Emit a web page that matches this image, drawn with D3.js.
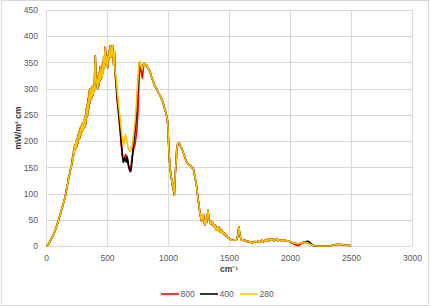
<!DOCTYPE html>
<html>
<head>
<meta charset="utf-8">
<script src="https://cdn.jsdelivr.net/npm/d3@7"></script>
<style>
    html, body { margin: 0; padding: 0; background: #ffffff; }
    #chart { width: 431px; height: 307px; }
</style>
</head>
<body>
<div id="chart"></div>
<script>
// spectrum pieces, [wavenumber cm-1, mW/m2 cm]
const lowPart = [
    [0,0],[11,1],[25,5],[38,11],[52,17],[66,24],[80,33],[93,42],[107,52],[120,63],[134,74],[148,86],
    [158,94],[165,104],[172,113],[179,120],[186,132],[193,136],[200,145],[206,150],[213,157],[218,168],
    [222,163],[227,183],[231,176],[235,192],[240,185],[245,200],[250,188],[255,205],[260,195],[264,212],
    [268,203],[272,218],[277,206],[282,225],[286,212],[290,228],[295,218],[300,235],[305,222],[310,240],
    [315,225],[320,248],[325,232],[330,262],[334,245],[338,270],[342,250],[346,282],[350,262],[354,295],
    [358,272],[363,300],[367,280],[372,298],[377,283],[382,305],[386,288],[391,304],[396,295],[400,335],
    [404,362],[408,330],[412,310],[418,317],[423,300],[428,325],[433,305],[438,332],[442,315],[446,342],
    [450,318],[455,335],[460,322],[464,348],[469,330],[473,361],[478,340],[482,368],[486,380],[490,355],
    [495,345],[500,362],[505,340],[510,358],[514,355],[518,372],[522,360],[527,382],[531,372],[535,360],
    [540,378],[545,382],[550,360],[555,345],[560,372],[564,345]
];

const dip280 = [
    [567,330],[575,320],[582,300],[590,280],[597,265],[604,250],[610,238],[616,224],[622,212],[628,200],
    [634,192],[640,200],[646,208],[652,212],[658,205],[664,198],[670,190],[676,185],[682,182],[688,180],
    [694,182],[700,188],[706,192],[712,200],[718,212],[724,225],[730,238],[736,255],[742,275],[748,298],
    [754,318],[759,335],[764,350],[770,352],[776,345],[782,340],[788,336],[794,342],[800,348]
];
const dip400 = [
    [567,330],[575,310],[582,288],[590,270],[597,252],[604,235],[610,220],[616,200],[622,185],[628,170],
    [634,160],[640,162],[646,168],[652,165],[658,160],[664,170],[670,165],[676,155],[682,148],[688,143],
    [694,142],[700,150],[706,165],[712,180],[718,195],[724,210],[730,218],[736,235],[742,255],[748,282],
    [754,305],[760,330],[765,348],[770,350],[776,342],[782,338],[788,336],[794,342],[800,348]
];
const dip800 = [
    [567,328],[575,305],[582,280],[590,262],[597,245],[604,228],[610,212],[616,195],[622,180],[628,168],
    [634,162],[640,165],[646,170],[652,175],[658,172],[664,168],[670,160],[676,152],[682,147],[688,145],
    [694,148],[700,158],[706,170],[712,178],[718,185],[724,190],[730,193],[736,205],[742,215],[748,230],
    [754,260],[760,300],[766,330],[772,342],[778,338],[784,328],[790,320],[796,335],[802,348]
];

const midPart = [
    [806,344],[812,348],[818,345],[825,345],[832,340],[838,338],[845,335],[852,333],[858,328],[865,322],
    [872,318],[880,313],[886,308],[893,305],[900,302],[907,300],[914,296],[921,292],[928,290],[934,287],
    [941,284],[948,280],[955,276],[962,272],[968,265],[975,260],[982,255],[989,248],[995,240],[1000,225],
    [1003,205],[1008,180],[1013,160],[1018,148],[1024,135],[1030,126],[1036,115],[1040,120],[1044,106],
    [1048,112],[1052,97],[1056,120],[1060,140],[1064,152],[1068,165],[1071,183],[1076,190],[1080,195],
    [1085,196],[1090,197],[1095,195],[1100,192],[1108,188],[1115,184],[1122,180],[1128,176],[1135,172],
    [1142,167],[1150,162],[1158,158],[1165,157],[1172,155],[1180,154],[1188,152],[1195,150],[1202,148],
    [1207,148],[1214,140],[1221,132],[1228,122],[1235,113],[1241,100],[1248,87],[1255,75],[1262,62],
    [1268,55],[1274,48],[1280,58],[1286,52],[1290,60],[1296,48],[1303,40],[1310,52],[1316,45],[1322,56],
    [1328,68],[1333,55],[1338,50],[1344,49],[1350,42],[1356,48],[1362,40],[1368,44],[1374,38],[1380,36],
    [1388,40],[1394,32],[1400,30],[1408,35],[1415,28],[1420,36],[1426,30],[1432,26],[1440,30],[1446,25],
    [1453,27],[1460,22],[1467,24],[1474,19],[1481,20],[1490,16],[1500,15],[1508,14],[1516,12],[1525,11],
    [1535,11],[1545,12],[1555,11],[1565,13],[1572,20],[1578,32],[1582,36],[1586,26],[1592,18],[1598,14],
    [1604,11],[1612,12],[1620,10],[1630,11],[1640,9],[1650,8],[1660,9],[1670,7],[1680,8],[1690,6],
    [1700,7],[1710,9],[1720,7],[1730,8],[1740,10],[1750,7],[1760,9],[1770,11],[1780,8],[1790,10],
    [1800,12],[1810,9],[1820,13],[1830,10],[1840,14],[1850,11],[1860,13],[1870,10],[1880,12],[1890,14],
    [1900,10],[1910,12],[1920,11],[1930,10],[1940,12],[1950,10],[1960,11],[1970,9],[1980,10],[1990,9],
    [2000,8]
];

const tail280 = [
    [2010,7],[2020,6],[2030,6],[2040,5],[2050,5],[2060,4],[2070,4],[2080,5],[2090,6],[2100,6],[2110,6],
    [2120,6],[2130,7],[2140,6],[2150,5],[2160,4],[2170,3],[2180,2],[2190,1],[2200,1],[2220,0],[2240,0],
    [2260,0],[2280,0],[2300,0],[2320,0],[2340,1],[2360,2],[2380,3],[2400,3],[2420,3],[2440,2],[2460,2],
    [2480,1],[2500,1]
];
const tail400 = [
    [2010,7],[2020,6],[2030,6],[2040,5],[2050,5],[2060,4],[2070,4],[2080,5],[2090,6],[2100,6],[2110,7],
    [2120,7],[2130,8],[2140,9],[2150,9],[2160,7],[2170,5],[2180,3],[2190,1],[2200,0],[2220,0],[2240,0],
    [2260,0],[2280,0],[2300,0],[2320,0],[2340,1],[2360,2],[2380,3],[2400,3],[2420,3],[2440,2],[2460,2],
    [2480,1],[2500,1]
];
const tail800 = [
    [2010,6],[2020,5],[2030,4],[2040,3],[2050,2],[2060,1],[2070,1],[2080,2],[2090,4],[2100,5],[2110,6],
    [2120,6],[2130,7],[2140,6],[2150,5],[2160,4],[2170,3],[2180,2],[2190,1],[2200,1],[2220,0],[2240,0],
    [2260,0],[2280,0],[2300,0],[2320,0],[2340,1],[2360,2],[2380,3],[2400,3],[2420,3],[2440,2],[2460,2],
    [2480,1],[2500,1]
];

const seriesNames = ["800", "400", "280"];
const seriesColors = ["#ff0000", "#000000", "#ffc000"];
const xTicks = [0, 500, 1000, 1500, 2000, 2500, 3000];
const yTicks = [0, 50, 100, 150, 200, 250, 300, 350, 400, 450];

(function () {
    'use strict';

    const width = 431;
    const height = 307;
    const margin = { left: 46, right: 19, top: 10, bottom: 61 };
    const fontFam = "'Liberation Sans', Arial, sans-serif";

    const seriesData = [
        lowPart.concat(dip800, midPart, tail800),
        lowPart.concat(dip400, midPart, tail400),
        lowPart.concat(dip280, midPart, tail280)
    ];

    const svg = d3.select("#chart").append("svg")
        .attr("width", width)
        .attr("height", height)
        .style("display", "block")
        .style("font-family", fontFam);

    svg.append("rect")
        .attr("x", 1.5).attr("y", 0.5)
        .attr("width", 427).attr("height", 305)
        .attr("fill", "#ffffff")
        .attr("stroke", "#d9d9d9");

    const x = d3.scaleLinear().domain([0, 3000]).range([margin.left, width - margin.right]);
    const y = d3.scaleLinear().domain([0, 450]).range([height - margin.bottom, margin.top]);

    // grid
    svg.append("g")
        .selectAll("line")
        .data(xTicks)
        .enter().append("line")
        .attr("x1", d => Math.round(x(d)) + 0.5).attr("x2", d => Math.round(x(d)) + 0.5)
        .attr("y1", y(450)).attr("y2", y(0))
        .attr("stroke", "#d9d9d9").attr("stroke-width", 1);

    svg.append("g")
        .selectAll("line")
        .data(yTicks)
        .enter().append("line")
        .attr("x1", x(0)).attr("x2", x(3000))
        .attr("y1", d => Math.round(y(d)) + 0.5).attr("y2", d => Math.round(y(d)) + 0.5)
        .attr("stroke", "#d9d9d9").attr("stroke-width", 1);

    // tick labels
    const xAxis = svg.append("g")
        .attr("transform", `translate(0,${y(0)})`)
        .call(d3.axisBottom(x).tickValues(xTicks).tickFormat(d3.format("d")).tickSize(0).tickPadding(9));
    xAxis.select(".domain").remove();
    xAxis.selectAll("text")
        .attr("fill", "#595959")
        .style("font-size", "8.5px")
        .style("font-family", fontFam);

    const yAxis = svg.append("g")
        .attr("transform", `translate(${x(0)},0)`)
        .call(d3.axisLeft(y).tickValues(yTicks).tickFormat(d3.format("d")).tickSize(0).tickPadding(8));
    yAxis.select(".domain").remove();
    yAxis.selectAll("text")
        .attr("fill", "#595959")
        .style("font-size", "8.5px")
        .style("font-family", fontFam);

    svg.append("text")
        .attr("x", (x(0) + x(3000)) / 2)
        .attr("y", 272)
        .attr("text-anchor", "middle")
        .attr("fill", "#404040")
        .style("font-size", "8.5px")
        .style("font-weight", "bold")
        .text("cm⁻¹");

    svg.append("text")
        .attr("transform", `translate(21,${(y(0) + y(450)) / 2}) rotate(-90)`)
        .attr("text-anchor", "middle")
        .attr("fill", "#404040")
        .style("font-size", "8.5px")
        .style("font-weight", "bold")
        .text("mW/m² cm");

    // series lines, yellow drawn last
    const line = d3.line()
        .x(d => x(d[0]))
        .y(d => y(d[1]));

    svg.append("g")
        .selectAll("path")
        .data(seriesData)
        .enter().append("path")
        .attr("d", line)
        .attr("fill", "none")
        .attr("stroke", (d, i) => seriesColors[i])
        .attr("stroke-width", 1.6)
        .attr("stroke-linejoin", "round");

    // legend
    const legendX = [161, 200, 240];
    const lg = svg.append("g");
    seriesNames.forEach((name, i) => {
        lg.append("line")
            .attr("x1", legendX[i]).attr("x2", legendX[i] + 18)
            .attr("y1", 294).attr("y2", 294)
            .attr("stroke", seriesColors[i])
            .attr("stroke-width", 1.6);
        lg.append("text")
            .attr("x", legendX[i] + 19.5)
            .attr("y", 297)
            .attr("fill", "#595959")
            .style("font-size", "8.5px")
            .text(name);
    });
})();
</script>
</body>
</html>
